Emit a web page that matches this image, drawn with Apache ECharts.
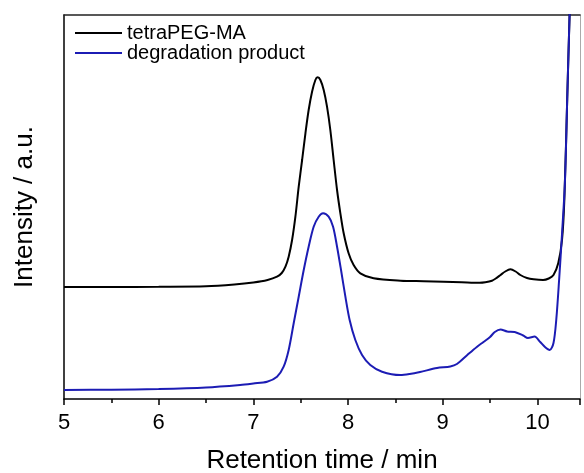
<!DOCTYPE html>
<html>
<head>
<meta charset="utf-8">
<script src="https://cdn.jsdelivr.net/npm/echarts@6/dist/echarts.min.js"></script>
<style>html,body{margin:0;padding:0;background:#fff}#c{width:584px;height:473px}</style>
</head>
<body>
<div id="c"></div>
<script>
var seriesNames = ['tetraPEG-MA', 'degradation product'];
var xTickLabels = [5, 6, 7, 8, 9, 10];

var blackX = [5.0, 5.5, 6.0, 6.5, 6.8, 7.0, 7.15, 7.25, 7.30, 7.339, 7.373, 7.409, 7.444, 7.479, 7.515, 7.55, 7.584, 7.620, 7.655, 7.679, 7.708, 7.743, 7.778, 7.813, 7.848, 7.884, 7.919, 7.954, 8.006, 8.059, 8.130, 8.270, 8.555, 8.8, 9.01, 9.2, 9.39, 9.45, 9.52, 9.56, 9.61, 9.66, 9.715, 9.77, 9.82, 9.89, 9.96, 10.06, 10.12, 10.17, 10.22, 10.26, 10.285, 10.315, 10.34, 10.36];
var blackY = [112, 112, 112.2, 112.7, 114.5, 116.5, 119, 122.3, 126, 132.3, 142.3, 159, 182.3, 212.3, 239, 265.7, 289, 307.3, 319, 321.7, 319, 309, 292.3, 269, 239, 209, 185.7, 165.7, 145.7, 134, 125.7, 120.7, 118.3, 117.8, 117.3, 116.8, 116.3, 116.8, 118.3, 120.5, 124, 127.5, 129.7, 127.5, 124, 121, 119.7, 119, 120.5, 124, 135.7, 159, 200, 300, 384, 440];

var blueX = [5.0, 5.5, 6.0, 6.5, 6.86, 7.0, 7.145, 7.25, 7.32, 7.373, 7.426, 7.479, 7.532, 7.584, 7.637, 7.69, 7.736, 7.795, 7.842, 7.884, 7.926, 7.972, 8.017, 8.077, 8.148, 8.235, 8.359, 8.552, 8.65, 8.76, 8.94, 9.08, 9.15, 9.26, 9.36, 9.43, 9.50, 9.55, 9.61, 9.68, 9.76, 9.85, 9.90, 9.97, 10.03, 10.08, 10.13, 10.17, 10.20, 10.23, 10.26, 10.29, 10.315, 10.34, 10.36];
var blueY = [9, 9.3, 10, 11.5, 14, 15.5, 17.3, 22.3, 32.3, 49, 75.7, 102.3, 129, 152.3, 172.3, 182.3, 185.7, 182.3, 172.3, 152.3, 129, 102.3, 79, 59, 44, 34, 27.3, 24, 25, 27, 31, 32.5, 35, 44, 52, 57, 62, 67, 69.5, 67.5, 67, 63.5, 61, 62.5, 57, 52, 49, 56, 80, 120, 165, 215, 300, 384, 440];

function pairs(xs, ys) { return xs.map(function (x, i) { return [x, ys[i]]; }); }

var FONT = 'Liberation Sans, Arial, sans-serif';
var chart = echarts.init(document.getElementById('c'), null, {renderer: 'canvas'});
chart.setOption({
  backgroundColor: '#fff',
  animation: false,
  grid: {left: 64, right: 4, top: 15, bottom: 74, containLabel: false, outerBoundsMode: 'none'},
  legend: {
    left: 75, top: 23, orient: 'vertical', itemGap: 0, padding: 0,
    itemWidth: 47, itemHeight: 2, icon: 'rect',
    textStyle: {fontFamily: FONT, fontSize: 20, lineHeight: 19, color: '#000'},
    data: seriesNames
  },
  xAxis: [{
    type: 'value', min: 5, max: 10.45, interval: 1,
    name: 'Retention time / min', nameLocation: 'middle', nameGap: 49,
    nameTextStyle: {fontFamily: FONT, fontSize: 26, color: '#000'},
    axisLine: {lineStyle: {color: '#000', width: 1.5}},
    axisTick: {show: true, inside: false, length: 6, lineStyle: {color: '#000', width: 1.5}},
    minorTick: {show: true, splitNumber: 2, length: 4, lineStyle: {color: '#000', width: 1.5}},
    axisLabel: {fontFamily: FONT, fontSize: 22, color: '#000', margin: 13, showMaxLabel: false,
      formatter: function (v) { return xTickLabels.indexOf(v) >= 0 ? String(v) : ''; }},
    splitLine: {show: false}
  }, {
    type: 'value', position: 'top', min: 5, max: 10.45,
    axisLine: {show: true, onZero: false, lineStyle: {color: '#222', width: 1.5}},
    axisTick: {show: false}, axisLabel: {show: false}, splitLine: {show: false}
  }],
  yAxis: [{
    type: 'value', min: 0, max: 384,
    name: 'Intensity / a.u.', nameLocation: 'middle', nameGap: 26,
    nameTextStyle: {fontFamily: FONT, fontSize: 26, color: '#000'},
    axisLine: {show: true, lineStyle: {color: '#000', width: 1.5}},
    axisTick: {show: false}, axisLabel: {show: false}, splitLine: {show: false}
  }, {
    type: 'value', position: 'right', min: 0, max: 384,
    axisLine: {show: true, onZero: false, lineStyle: {color: '#aaa', width: 1}},
    axisTick: {show: false}, axisLabel: {show: false}, splitLine: {show: false}
  }],
  series: [{
    name: seriesNames[0], type: 'line', data: pairs(blackX, blackY),
    showSymbol: false, symbol: 'none', smooth: 0.3,
    lineStyle: {color: '#000', width: 2}, itemStyle: {color: '#000'}
  }, {
    name: seriesNames[1], type: 'line', data: pairs(blueX, blueY),
    showSymbol: false, symbol: 'none', smooth: 0.3,
    lineStyle: {color: '#1c1cb4', width: 2}, itemStyle: {color: '#1c1cb4'}
  }]
});
</script>
</body>
</html>
